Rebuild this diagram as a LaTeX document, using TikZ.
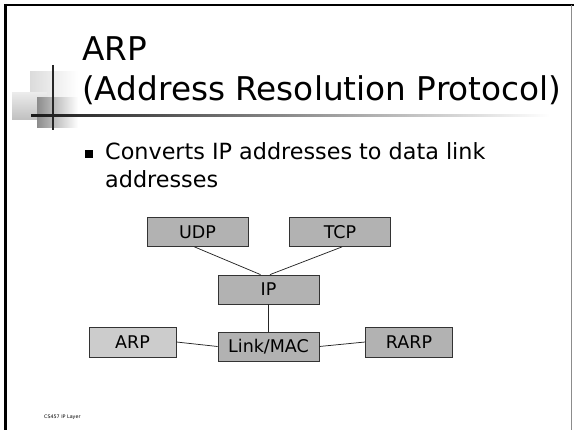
\documentclass[tikz,border=0pt]{standalone}
\usepackage{fontspec}
\setmainfont{DejaVu Sans}
\usetikzlibrary{positioning}
\definecolor{layergray}{HTML}{B2B2B2}
\definecolor{arpgray}{HTML}{CCCCCC}

\begin{document}
\begin{tikzpicture}[x=1pt, y=-1pt, every node/.style={inner sep=0pt},
  layer/.style={rectangle, draw=black!80, line width=0.8pt, fill=layergray, minimum width=101pt, minimum height=29pt, font=\fontsize{17.5}{20}\selectfont},
  sidebox/.style={layer, minimum width=87pt, minimum height=30pt},
  titletext/.style={anchor=base west, font=\fontsize{32.7}{38}\selectfont},
  bodytext/.style={anchor=base west, font=\fontsize{22.3}{28}\selectfont},
  wire/.style={draw=black!85, line width=0.75pt}
]
\useasboundingbox (0,0) rectangle (574,430);
% Slide frame
\draw[line width=3pt] (5.5,4) -- (5.5,430);
\draw[line width=2pt] (4,5) -- (574,5);
\draw[black!45, line width=0.8pt] (571.5,5) -- (571.5,430);
% Decoration
\shade[left color=black!14, right color=white] (30,72) rectangle (78,100);
\shade[top color=black!8, bottom color=black!25] (12,93) rectangle (47,120);
\shade[left color=black!45, right color=white] (37,98) rectangle (78,128);
\draw[line width=2pt, black!85] (53,65) -- (53,130);
\shade[left color=black!90, right color=white] (31,115) rectangle (550,117);
% Title and bullet
\node[titletext] (title1) at (82,61) {ARP};
\node[titletext] (title2) at (82,101) {(Address Resolution Protocol)};
\fill (85,150) rectangle (93,158);
\node[bodytext] (body1) at (105,160) {Converts IP addresses to data link};
\node[bodytext] (body2) at (105,188) {addresses};
% Layers
\node[layer] (udp) at (197.5,232) {UDP};
\node[layer] (tcp) at (340,232) {TCP};
\node[layer] (ip) at (268.5,289.5) {IP};
\node[layer] (link) at (268.5,346.5) {Link/MAC};
\node[sidebox, fill=arpgray] (arp) at (132.5,342) {ARP};
\node[sidebox] (rarp) at (409,342) {RARP};
% Links
\draw[wire] ([xshift=-3pt]udp.south) -- ([xshift=-8pt]ip.north);
\draw[wire] ([xshift=2pt]tcp.south) -- ([xshift=1.5pt]ip.north);
\draw[wire] (ip) -- (link);
\draw[wire] (arp.east) -- (link.west);
\draw[wire] (link.east) -- (rarp.west);
% Footer
\node[anchor=base west, font=\fontsize{4.8}{6}\selectfont] (footer) at (44,419) {CS457 IP Layer};
\end{tikzpicture}
\end{document}
